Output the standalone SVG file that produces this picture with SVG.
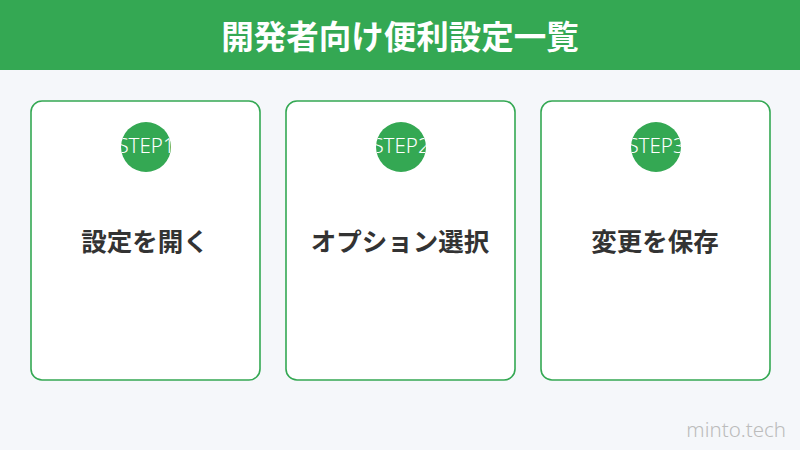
<svg xmlns="http://www.w3.org/2000/svg" width="800" height="450" viewBox="0 0 800 450">
<defs>
<style>
.card{fill:#ffffff;stroke:#34a853;stroke-width:1.6}
.badge{fill:#34a853}
.step{font-family:"Noto Sans","Noto Sans CJK JP",sans-serif;font-weight:300;font-size:20.5px;fill:#ffffff;text-anchor:middle}
.label{font-family:"Noto Sans CJK JP",sans-serif;font-weight:700;font-size:25.5px;fill:#333333;text-anchor:middle}
.title{font-family:"Noto Sans CJK JP",sans-serif;font-weight:700;font-size:32.5px;fill:#ffffff;text-anchor:middle}
.brand{font-family:"Noto Sans",sans-serif;font-weight:300;font-size:20.5px;fill:#bcbcbc;text-anchor:end}
</style>
<clipPath id="c1"><circle cx="146" cy="147" r="25"/></clipPath>
<clipPath id="c2"><circle cx="401" cy="147" r="25"/></clipPath>
<clipPath id="c3"><circle cx="656" cy="147" r="25"/></clipPath>
</defs>
<rect width="800" height="450" fill="#f5f7fa"/>
<g id="header">
<rect x="0" y="0" width="800" height="70" fill="#34a853"/>
<text class="title" x="400" y="49">開発者向け便利設定一覧</text>
</g>
<g id="connectors"></g>
<g id="step1">
<rect class="card" x="31" y="101" width="229" height="279" rx="11"/>
<circle class="badge" cx="146" cy="147" r="25"/>
<text class="step" x="146" y="153" clip-path="url(#c1)">STEP1</text>
<text class="label" x="145" y="251">設定を開く</text>
</g>
<g id="step2">
<rect class="card" x="286" y="101" width="229" height="279" rx="11"/>
<circle class="badge" cx="401" cy="147" r="25"/>
<text class="step" x="401" y="153" clip-path="url(#c2)">STEP2</text>
<text class="label" x="400" y="251">オプション選択</text>
</g>
<g id="step3">
<rect class="card" x="541" y="101" width="229" height="279" rx="11"/>
<circle class="badge" cx="656" cy="147" r="25"/>
<text class="step" x="656" y="153" clip-path="url(#c3)">STEP3</text>
<text class="label" x="655" y="251">変更を保存</text>
</g>
<text class="brand" x="786" y="437">minto.tech</text>
</svg>
